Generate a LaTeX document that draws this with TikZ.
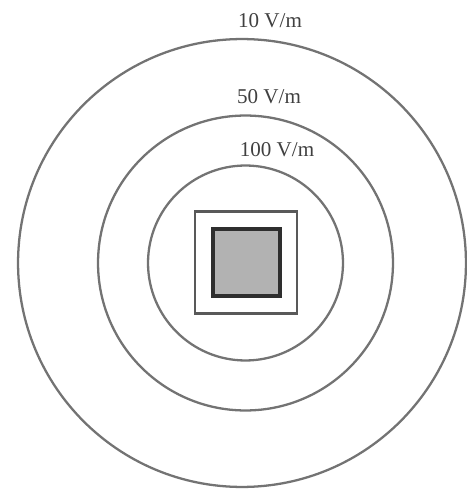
\documentclass[tikz,border=0pt]{standalone}
\usepackage{fontspec}
\setmainfont{Liberation Serif}
\usetikzlibrary{positioning}
\definecolor{ringgray}{gray}{0.45}
\definecolor{boxgray}{gray}{0.35}
\definecolor{devfill}{gray}{0.70}
\definecolor{devedge}{gray}{0.18}
\tikzset{
  ring/.style={circle, draw=ringgray, line width=1.3pt, inner sep=0pt},
  shieldbox/.style={rectangle, draw=boxgray, line width=1.2pt, inner sep=0pt},
  devbox/.style={rectangle, draw=devedge, fill=devfill, line width=1.8pt, inner sep=0pt},
  lbl/.style={font=\fontsize{12}{14}\selectfont, text=black!75, inner sep=1pt}
}

\begin{document}
\begin{tikzpicture}[x=0.02cm, y=0.02cm]
  \useasboundingbox (0,0) rectangle (467,491);
  % field strength contours
  \node[ring, minimum size=8.96cm] (r10) at (242,228) {};
  \node[ring, minimum size=5.9cm] (r50) at (245.5,228) {};
  \node[ring, minimum size=3.9cm] (r100) at (245.5,228) {};
  % enclosure and equipment
  \node[shieldbox, minimum size=2.04cm] (encl) at (246,228.5) {};
  \node[devbox, minimum size=1.34cm] (dev) at (246.5,228.5) {};
  % contour labels
  \node[lbl] (l10) at (270,470) {10 V/m};
  \node[lbl] (l50) at (269,394) {50 V/m};
  \node[lbl] (l100) at (277,341) {100 V/m};
\end{tikzpicture}
\end{document}
